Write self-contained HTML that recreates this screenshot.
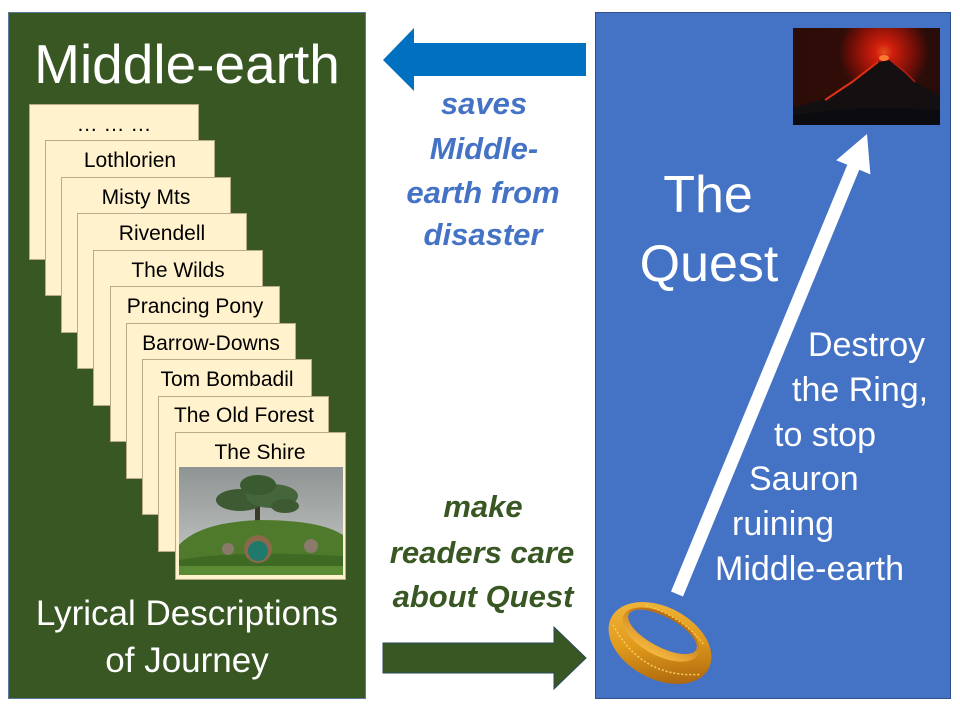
<!DOCTYPE html>
<html>
<head>
<meta charset="utf-8">
<style>
html,body{margin:0;padding:0;background:#fff;}
svg{display:block;}
text{font-family:"Liberation Sans",sans-serif;}
</style>
</head>
<body>
<svg width="960" height="720" viewBox="0 0 960 720" xmlns="http://www.w3.org/2000/svg">
<defs>
  <radialGradient id="glow" cx="884" cy="52" r="45" gradientUnits="userSpaceOnUse">
    <stop offset="0" stop-color="#ff5a20"/>
    <stop offset="0.2" stop-color="#e8200c"/>
    <stop offset="0.7" stop-color="#7a0e06"/>
    <stop offset="1" stop-color="#2a0c08"/>
  </radialGradient>
  <linearGradient id="bgv" x1="0" y1="0" x2="1" y2="0">
    <stop offset="0" stop-color="#3a0e08"/>
    <stop offset="0.5" stop-color="#5a1208"/>
    <stop offset="1" stop-color="#1a0e0e"/>
  </linearGradient>
  <linearGradient id="sky" x1="0" y1="0" x2="0" y2="1">
    <stop offset="0" stop-color="#8e9493"/>
    <stop offset="1" stop-color="#c8cbca"/>
  </linearGradient>
  <linearGradient id="gold" x1="0" y1="0" x2="1" y2="1">
    <stop offset="0" stop-color="#f6be45"/>
    <stop offset="0.5" stop-color="#e09a1c"/>
    <stop offset="1" stop-color="#9a5408"/>
  </linearGradient>
  <linearGradient id="goldIn" x1="0" y1="0" x2="0" y2="1">
    <stop offset="0" stop-color="#b86a0c"/>
    <stop offset="1" stop-color="#f4b840"/>
  </linearGradient>
</defs>

<!-- Left green panel -->
<rect x="8.5" y="12.5" width="357" height="686" fill="#385723" stroke="#5b7a9a" stroke-width="1"/>
<text x="187" y="83" font-size="55" fill="#fff" text-anchor="middle">Middle-earth</text>

<!-- Cards -->
<g font-size="21" fill="#000" text-anchor="middle">
  <rect x="29.5" y="104.5" width="169" height="155" fill="#FFF2CC" stroke="#b8ab8a"/>
  <text x="114" y="131">… … …</text>
  <rect x="45.5" y="140.5" width="169" height="155" fill="#FFF2CC" stroke="#b8ab8a"/>
  <text x="130" y="167">Lothlorien</text>
  <rect x="61.5" y="177.5" width="169" height="155" fill="#FFF2CC" stroke="#b8ab8a"/>
  <text x="146" y="204">Misty Mts</text>
  <rect x="77.5" y="213.5" width="169" height="155" fill="#FFF2CC" stroke="#b8ab8a"/>
  <text x="162" y="240">Rivendell</text>
  <rect x="93.5" y="250.5" width="169" height="155" fill="#FFF2CC" stroke="#b8ab8a"/>
  <text x="178" y="277">The Wilds</text>
  <rect x="110.5" y="286.5" width="169" height="155" fill="#FFF2CC" stroke="#b8ab8a"/>
  <text x="195" y="313">Prancing Pony</text>
  <rect x="126.5" y="323.5" width="169" height="155" fill="#FFF2CC" stroke="#b8ab8a"/>
  <text x="211" y="350">Barrow-Downs</text>
  <rect x="142.5" y="359.5" width="169" height="155" fill="#FFF2CC" stroke="#b8ab8a"/>
  <text x="227" y="386">Tom Bombadil</text>
  <rect x="158.5" y="396.5" width="170" height="155" fill="#FFF2CC" stroke="#b8ab8a"/>
  <text x="244" y="422">The Old Forest</text>
  <rect x="175.5" y="432.5" width="170" height="147" fill="#FFF2CC" stroke="#b8ab8a"/>
  <text x="260" y="459">The Shire</text>
</g>

<!-- Shire image -->
<g>
  <rect x="179" y="467" width="164" height="108" fill="url(#sky)"/>
  <!-- tree -->
  <rect x="255" y="500" width="5" height="38" fill="#3a3a2a"/>
  <ellipse cx="240" cy="500" rx="24" ry="11" fill="#3d5a32"/>
  <ellipse cx="272" cy="496" rx="26" ry="12" fill="#44663a"/>
  <ellipse cx="258" cy="485" rx="18" ry="10" fill="#3a5a30"/>
  <ellipse cx="285" cy="506" rx="14" ry="7" fill="#3d5a32"/>
  <!-- hill -->
  <path d="M179 575 L179 545 Q200 522 260 520 Q320 520 343 535 L343 575 Z" fill="#4f7a2c"/>
  <path d="M179 575 L179 560 Q230 550 343 556 L343 575 Z" fill="#3f6a24"/>
  <!-- door -->
  <circle cx="258" cy="549" r="14" fill="#8a6a4a"/>
  <circle cx="258" cy="551" r="10" fill="#1f7a6c"/>
  <circle cx="311" cy="546" r="7" fill="#8a7a6a"/>
  <circle cx="228" cy="549" r="6" fill="#8a7a6a"/>
  <rect x="179" y="566" width="164" height="9" fill="#5a8a34"/>
</g>

<text x="187" y="625" font-size="35" fill="#fff" text-anchor="middle">Lyrical Descriptions</text>
<text x="187" y="672" font-size="35" fill="#fff" text-anchor="middle">of Journey</text>

<!-- Blue arrow (left) -->
<polygon points="586,43 414,43 414,28 383,60 414,91 414,76 586,76" fill="#0070C0"/>

<!-- Middle texts -->
<g font-size="31" font-weight="bold" font-style="italic" fill="#4472C4" text-anchor="middle">
  <text x="484" y="114">saves</text>
  <text x="484" y="159">Middle-</text>
  <text x="483" y="203">earth from</text>
  <text x="483" y="245">disaster</text>
</g>
<g font-size="31" font-weight="bold" font-style="italic" fill="#385723" text-anchor="middle">
  <text x="483" y="517">make</text>
  <text x="482" y="563">readers care</text>
  <text x="483" y="607">about Quest</text>
</g>

<!-- Green arrow -->
<polygon points="383,643 554,643 554,627 586,658 554,689 554,673 383,673" fill="#385723" stroke="#2a4a5a" stroke-width="1"/>

<!-- Right blue panel -->
<rect x="595.5" y="12.5" width="355" height="686" fill="#4472C4" stroke="#2F528F" stroke-width="1"/>

<!-- Volcano -->
<g>
  <rect x="793" y="28" width="147" height="97" fill="url(#bgv)"/>
  <rect x="793" y="28" width="147" height="97" fill="url(#glow)" opacity="0.85"/>
  <polygon points="793,108 820,100 850,84 878,62 890,60 915,82 940,96 940,125 793,125" fill="#141012"/>
  <polyline points="825,100 852,82 878,62" fill="none" stroke="#e03010" stroke-width="2"/>
  <polyline points="890,60 905,72 915,82" fill="none" stroke="#b02010" stroke-width="1.5"/>
  <ellipse cx="884" cy="58" rx="5" ry="3" fill="#ff7a30"/>
  <path d="M793 116 Q850 104 940 110 L940 125 L793 125 Z" fill="#0c0b0f"/>
</g>

<!-- The Quest -->
<text x="708" y="212" font-size="52" fill="#fff" text-anchor="middle">The</text>
<text x="709" y="281" font-size="52" fill="#fff" text-anchor="middle">Quest</text>

<!-- White arrow -->
<polygon points="671,591.5 847.3,164.8 836.2,160.2 867,134 870.4,174.4 859.3,169.8 683,596.5" fill="#fff"/>

<!-- Right text -->
<g font-size="34" fill="#fff">
  <text x="808" y="356">Destroy</text>
  <text x="792" y="401">the Ring,</text>
  <text x="774" y="446">to stop</text>
  <text x="749" y="490">Sauron</text>
  <text x="732" y="535">ruining</text>
  <text x="715" y="580">Middle-earth</text>
</g>

<!-- Ring -->
<g transform="translate(660,643) rotate(28)">
  <ellipse cx="0" cy="0" rx="55" ry="36" fill="url(#gold)"/>
  <ellipse cx="-3" cy="-8" rx="42" ry="21" fill="url(#goldIn)"/>
  <ellipse cx="-3" cy="-11" rx="38" ry="15" fill="#4472C4"/>
  <path d="M-50 6 Q0 40 50 9" fill="none" stroke="#f7d060" stroke-width="1.5" stroke-dasharray="2 2"/>
  <path d="M-30 -27 Q10 -33 40 -19" fill="none" stroke="#f7d060" stroke-width="1.2" stroke-dasharray="2 2"/>
</g>
</svg>
</body>
</html>
